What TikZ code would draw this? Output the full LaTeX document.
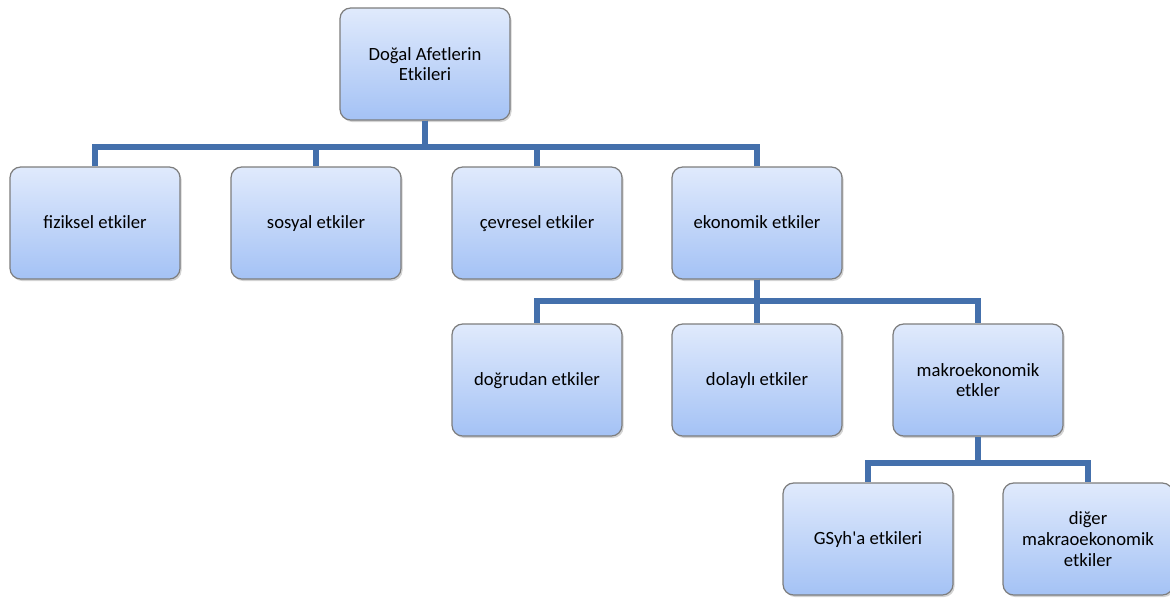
\documentclass[tikz,border=0pt]{standalone}
\usepackage{fontspec}
\setmainfont{Carlito}
\usetikzlibrary{shadows}

\definecolor{linkblue}{RGB}{68,112,172}
\definecolor{boxtop}{RGB}{224,234,252}
\definecolor{boxbottom}{RGB}{164,194,245}
\definecolor{boxedge}{RGB}{125,125,125}

\tikzset{
  unit/.style={draw=boxedge, line width=0.9pt, rounded corners=8pt,
    top color=boxtop, bottom color=boxbottom,
    minimum width=127.5pt, minimum height=84pt, align=center,
    font=\fontsize{14}{15.5}\selectfont,
    drop shadow={shadow xshift=1.2pt, shadow yshift=-1.5pt, opacity=0.35, fill=gray}},
  oneline/.style={text height=1.0em, text depth=0.2em},
  link/.style={draw=linkblue, line width=4.5pt}
}

\begin{document}
\begin{tikzpicture}[x=0.75pt,y=-0.75pt]
       \useasboundingbox (0,0) rectangle (1170,601);
       % boxes
       \node[unit] (etki) at (425, 64) {Doğal Afetlerin\\Etkileri};
       \node[unit,oneline] (fiz)  at ( 95,223) {fiziksel etkiler};
       \node[unit,oneline] (sos)  at (316,223) {sosyal etkiler};
       \node[unit,oneline] (cev)  at (537,223) {çevresel etkiler};
       \node[unit,oneline] (eko)  at (757,223) {ekonomik etkiler};
       \node[unit,oneline] (dog)  at (537,380) {doğrudan etkiler};
       \node[unit,oneline] (dol)  at (757,380) {dolaylı etkiler};
       \node[unit] (mak)  at (978,380) {makroekonomik\\etkler};
       \node[unit,oneline] (gsy)  at (868,539) {GSyh\textquotesingle a etkileri};
       \node[unit] (dig)  at (1088,539) {diğer\\makraoekonomik\\etkiler};
       % connectors
       \foreach \kid in {fiz,sos,cev,eko}
         \draw[link] (etki.south) -- ++(0,26) -| (\kid.north);
       \foreach \kid in {dog,dol,mak}
         \draw[link] (eko.south) -- ++(0,21) -| (\kid.north);
       \foreach \kid in {gsy,dig}
         \draw[link] (mak.south) -- ++(0,26) -| (\kid.north);
      \end{tikzpicture}
\end{document}
